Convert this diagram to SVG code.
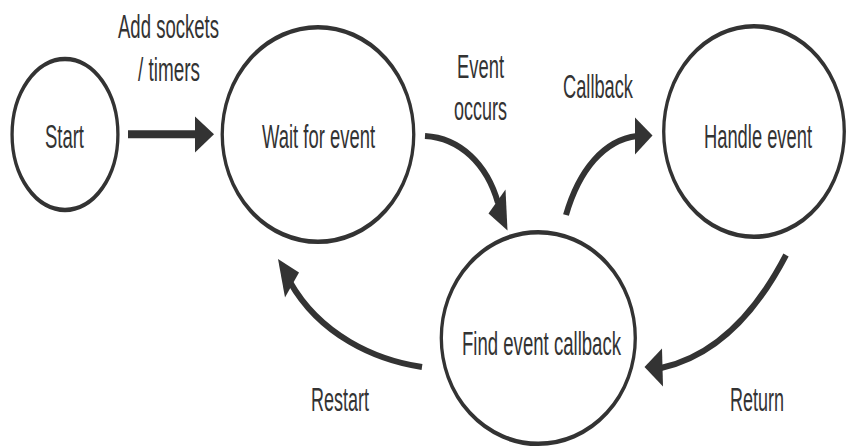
<svg xmlns="http://www.w3.org/2000/svg" width="847" height="448" viewBox="0 0 847 448">
  <style>
    .node { fill: #ffffff; stroke: #333333; stroke-width: 4.6; }
    .label { font-family: "Liberation Sans", Arial, sans-serif; font-size: 34px; fill: #333333; text-anchor: middle; }
    .edge { fill: none; stroke: #333333; stroke-width: 6; }
    .shaft { fill: none; stroke: #333333; stroke-width: 8; }
    .head { fill: #333333; stroke: none; }
  </style>
  <rect width="847" height="448" fill="#ffffff"/>

  <!-- Nodes: ellipses are drawn squeezed horizontally so the side strokes come out thinner -->
  <g id="node-start">
    <ellipse class="node" transform="translate(65,134.5) scale(0.72,1)" cx="0" cy="0" rx="73.5" ry="75.5"/>
    <text class="label" x="64.5" y="148" textLength="39" lengthAdjust="spacingAndGlyphs">Start</text>
  </g>
  <g id="node-wait">
    <ellipse class="node" transform="translate(318,134.5) scale(0.72,1)" cx="0" cy="0" rx="133" ry="107.3"/>
    <text class="label" x="318.5" y="148" textLength="113" lengthAdjust="spacingAndGlyphs">Wait for event</text>
  </g>
  <g id="node-handle">
    <ellipse class="node" transform="translate(754,131.5) scale(0.72,1)" cx="0" cy="0" rx="125.4" ry="105.3"/>
    <text class="label" transform="translate(758,148) scale(0.54,1)" x="0" y="0" textLength="200" lengthAdjust="spacingAndGlyphs">Handle event</text>
  </g>
  <g id="node-find">
    <ellipse class="node" transform="translate(538.3,338) scale(0.72,1)" cx="0" cy="0" rx="134.7" ry="105.8"/>
    <text class="label" x="541.5" y="355" textLength="159" lengthAdjust="spacingAndGlyphs">Find event callback</text>
  </g>

  <!-- Connectors -->
  <g id="connectors">
    <!-- Start to Wait for event -->
    <g id="edge-add">
      <line class="shaft" x1="128" y1="134.3" x2="197" y2="134.3"/>
      <polygon class="head" points="195,116.5 214,134.3 195,152.5"/>
      <text class="label" x="168.5" y="38" textLength="101" lengthAdjust="spacingAndGlyphs">Add sockets</text>
      <text class="label" x="169" y="81" textLength="62" lengthAdjust="spacingAndGlyphs">/ timers</text>
    </g>
    <!-- Wait for event to Find event callback -->
    <g id="edge-occurs">
      <path class="edge" d="M425,136 C460,138 487,164 498,203"/>
      <polygon class="head" points="488.5,213.5 505.5,189.5 507.5,230.5"/>
      <text class="label" x="480.5" y="78" textLength="47" lengthAdjust="spacingAndGlyphs">Event</text>
      <text class="label" x="480.5" y="120" textLength="53" lengthAdjust="spacingAndGlyphs">occurs</text>
    </g>
    <!-- Find event callback to Handle event -->
    <g id="edge-callback">
      <path class="edge" d="M566,215 C579,170 604,140 637,136"/>
      <polygon class="head" points="635,117.5 652.5,135.5 635,154.5"/>
      <text class="label" x="598" y="98" textLength="70" lengthAdjust="spacingAndGlyphs">Callback</text>
    </g>
    <!-- Handle event back to Find event callback -->
    <g id="edge-return">
      <path class="edge" d="M786,255 C760,305 720,355 661,368"/>
      <polygon class="head" points="662,348.5 644.5,367 663,386.5"/>
      <text class="label" x="757" y="411" textLength="54" lengthAdjust="spacingAndGlyphs">Return</text>
    </g>
    <!-- Find event callback back to Wait for event -->
    <g id="edge-restart">
      <path class="edge" d="M422,367 C375,360 320,335 290,282"/>
      <polygon class="head" points="278,259 299,272.5 285,297.5"/>
      <text class="label" x="340" y="411" textLength="58" lengthAdjust="spacingAndGlyphs">Restart</text>
    </g>
  </g>
</svg>
